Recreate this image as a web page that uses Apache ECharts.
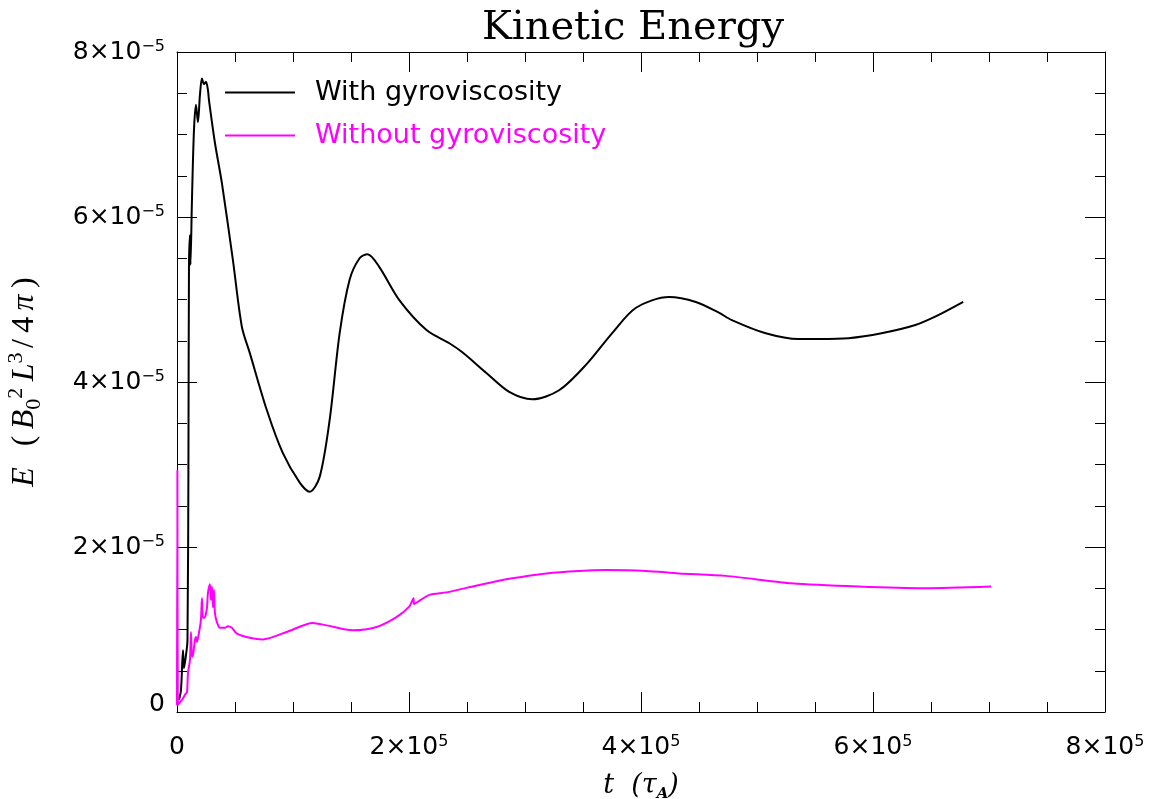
<!DOCTYPE html>
<html>
<head>
<meta charset="utf-8">
<script src="https://cdn.jsdelivr.net/npm/echarts@6/dist/echarts.min.js"></script>
<style>html,body{margin:0;padding:0;background:#fff;}#c{width:1165px;height:799px;}</style>
</head>
<body>
<div id="c"></div>
<script>
// ---- data (t in tau_A, E in B0^2 L^3 / 4pi) ----
const withT = [1720,3440,5160,6020,7740,9030,9890,10320,11180,11610,12900,14620,16340,18060,19780,21500,23230,24950,26670,27530,32690,38710,48170,55910,62790,77420,91180,105800,114400,123000,131600,140200,148800,157400,164300,174600,191800,215100,234800,246000,266700,286400,306200,329400,352700,375000,395700,424100,447300,467100,478300,507500,535900,553100,578900,607300,636500,656300,677800];
const withE = [0.145e-5,0.267e-5,0.75e-5,0.53e-5,0.69e-5,0.87e-5,3.18e-5,5.39e-5,5.78e-5,5.42e-5,6.21e-5,7.05e-5,7.36e-5,7.15e-5,7.48e-5,7.68e-5,7.61e-5,7.64e-5,7.54e-5,7.42e-5,6.90e-5,6.41e-5,5.48e-5,4.67e-5,4.35e-5,3.66e-5,3.14e-5,2.78e-5,2.67e-5,2.85e-5,3.54e-5,4.59e-5,5.24e-5,5.50e-5,5.55e-5,5.39e-5,4.99e-5,4.63e-5,4.47e-5,4.36e-5,4.11e-5,3.88e-5,3.79e-5,3.90e-5,4.21e-5,4.59e-5,4.90e-5,5.03e-5,4.97e-5,4.84e-5,4.75e-5,4.59e-5,4.52e-5,4.52e-5,4.53e-5,4.59e-5,4.69e-5,4.81e-5,4.97e-5];
const withoutT = [0,340,690,2580,4300,6880,8600,9460,11180,12040,12900,13760,15480,16340,17200,18920,20640,21500,22360,24090,25810,26670,28390,29250,30110,30970,31830,32690,34410,36990,41290,43870,47310,51610,62790,73980,94620,117000,129000,151400,172000,189200,200400,203900,204300,217600,232300,260600,289000,318300,346700,369900,404300,432700,473100,529900,587500,645200,701900];
const withoutE = [0.085e-5,2.93e-5,0.085e-5,0.12e-5,0.145e-5,0.21e-5,0.24e-5,0.47e-5,0.63e-5,0.97e-5,0.67e-5,0.69e-5,0.87e-5,0.91e-5,0.85e-5,0.96e-5,1.12e-5,1.38e-5,1.14e-5,1.15e-5,1.26e-5,1.44e-5,1.55e-5,1.36e-5,1.52e-5,1.27e-5,1.48e-5,1.20e-5,1.09e-5,1.02e-5,1.02e-5,1.04e-5,1.02e-5,0.95e-5,0.90e-5,0.88e-5,0.97e-5,1.08e-5,1.05e-5,0.99e-5,1.03e-5,1.15e-5,1.28e-5,1.38e-5,1.31e-5,1.42e-5,1.45e-5,1.54e-5,1.62e-5,1.68e-5,1.71e-5,1.72e-5,1.71e-5,1.68e-5,1.65e-5,1.56e-5,1.52e-5,1.50e-5,1.52e-5];
const seriesNames = ['With gyroviscosity', 'Without gyroviscosity'];
const xTickMantissa = ['0','2','4','6','8'];   // ×10^5
const yTickMantissa = ['0','2','4','6','8'];   // ×10^-5

const sans = 'DejaVu Sans';
const serif = 'DejaVu Serif';
const nameSerif = 'Liberation Serif';
const zip = (a, b) => a.map((v, i) => [v, b[i]]);
const TS = '\u2009';

function xLabel(v) {
  const m = Math.round(v / 1e5);
  if (m === 0) return '{m|0}';
  return '{m|' + xTickMantissa[m / 2] + '×10}{s|5}';
}
function yLabel(v) {
  const m = Math.round(v / 1e-5);
  if (m === 0) return '{z|0}';
  return '{m|' + yTickMantissa[m / 2] + '×10}{s|−5}';
}
const labelRich = {
  m: { fontFamily: sans, fontSize: 25, color: '#000', lineHeight: 26 },
  z: { fontFamily: sans, fontSize: 25, color: '#000', lineHeight: 16 },
  s: { fontFamily: sans, fontSize: 16, color: '#000', verticalAlign: 'top', lineHeight: 16 }
};

const common = () => ({
  type: 'value',
  axisLine: { show: true, onZero: false, lineStyle: { color: '#000', width: 1 } },
  axisTick: { show: true, inside: true, length: 20, lineStyle: { color: '#000', width: 1 } },
  minorTick: { show: true, splitNumber: 4, length: 10, lineStyle: { color: '#000', width: 1 } },
  splitLine: { show: false }
});

const yName = '{i|E}{r|' + TS + TS + ' (' + TS + '}{i|B}{z|0}{p|2}{i|' + TS + 'L}{p|3' + TS + '}{r|/' + TS + '4}{i|' + TS + 'π}{r|' + TS + ')}';

const chart = echarts.init(document.getElementById('c'), null, { renderer: 'canvas' });
chart.setOption({
  backgroundColor: '#fff',
  animation: false,
  title: {
    text: 'Kinetic Energy',
    left: 628, top: 4, textAlign: 'center',
    textStyle: { fontFamily: serif, fontSize: 40, fontWeight: 'normal', color: '#000' }
  },
  grid: { left: 177, right: 60, top: 52, bottom: 87, containLabel: false, outerBoundsMode: 'none' },
  legend: {
    orient: 'vertical', left: 220, top: 74, itemGap: 16,
    icon: 'rect', itemWidth: 70, itemHeight: 2,
    textStyle: { fontFamily: sans, fontSize: 27, padding: [0, 0, 0, 15] },
    data: [
      { name: seriesNames[0], textStyle: { color: '#000' } },
      { name: seriesNames[1], textStyle: { color: '#ff00ff' } }
    ]
  },
  xAxis: [
    Object.assign(common(), {
      position: 'bottom', min: 0, max: 8e5, interval: 2e5,
      axisLabel: { margin: 22, formatter: xLabel, rich: labelRich },
      name: '{i|t}{i|  (}{i|τ}{b|A}{i|)}',
      nameLocation: 'middle', nameGap: 58, nameMoveOverlap: false,
      nameTextStyle: {
        rich: {
          i: { fontFamily: serif, fontStyle: 'italic', fontSize: 27, color: '#000', lineHeight: 32 },
          b: { fontFamily: serif, fontStyle: 'italic', fontWeight: 'bold', fontSize: 15, color: '#000', verticalAlign: 'bottom', lineHeight: 15 }
        }
      }
    }),
    Object.assign(common(), {
      position: 'top', min: 0, max: 8e5, interval: 2e5,
      axisLabel: { show: false }
    })
  ],
  yAxis: [
    Object.assign(common(), {
      position: 'left', min: 0, max: 8e-5, interval: 2e-5,
      axisLabel: { margin: 12, formatter: yLabel, rich: labelRich, verticalAlignMinLabel: 'bottom' },
      name: yName,
      nameLocation: 'middle', nameGap: 132, nameRotate: 90, nameMoveOverlap: false,
      nameTextStyle: {
        rich: {
          i: { fontFamily: nameSerif, fontStyle: 'italic', fontSize: 32, color: '#000', lineHeight: 40 },
          r: { fontFamily: nameSerif, fontSize: 32, color: '#000', lineHeight: 40 },
          z: { fontFamily: nameSerif, fontSize: 22, color: '#000', verticalAlign: 'bottom', lineHeight: 22 },
          p: { fontFamily: nameSerif, fontSize: 22, color: '#000', verticalAlign: 'top', lineHeight: 22 }
        }
      }
    }),
    Object.assign(common(), {
      position: 'right', min: 0, max: 8e-5, interval: 2e-5,
      axisLabel: { show: false }
    })
  ],
  series: [
    {
      name: seriesNames[0], type: 'line', data: zip(withT, withE),
      symbol: 'none', smooth: 0.3,
      lineStyle: { color: '#000', width: 2 }, itemStyle: { color: '#000' }
    },
    {
      name: seriesNames[1], type: 'line', data: zip(withoutT, withoutE),
      symbol: 'none', smooth: 0.25,
      lineStyle: { color: '#ff00ff', width: 2 }, itemStyle: { color: '#ff00ff' }
    }
  ]
});
</script>
</body>
</html>
